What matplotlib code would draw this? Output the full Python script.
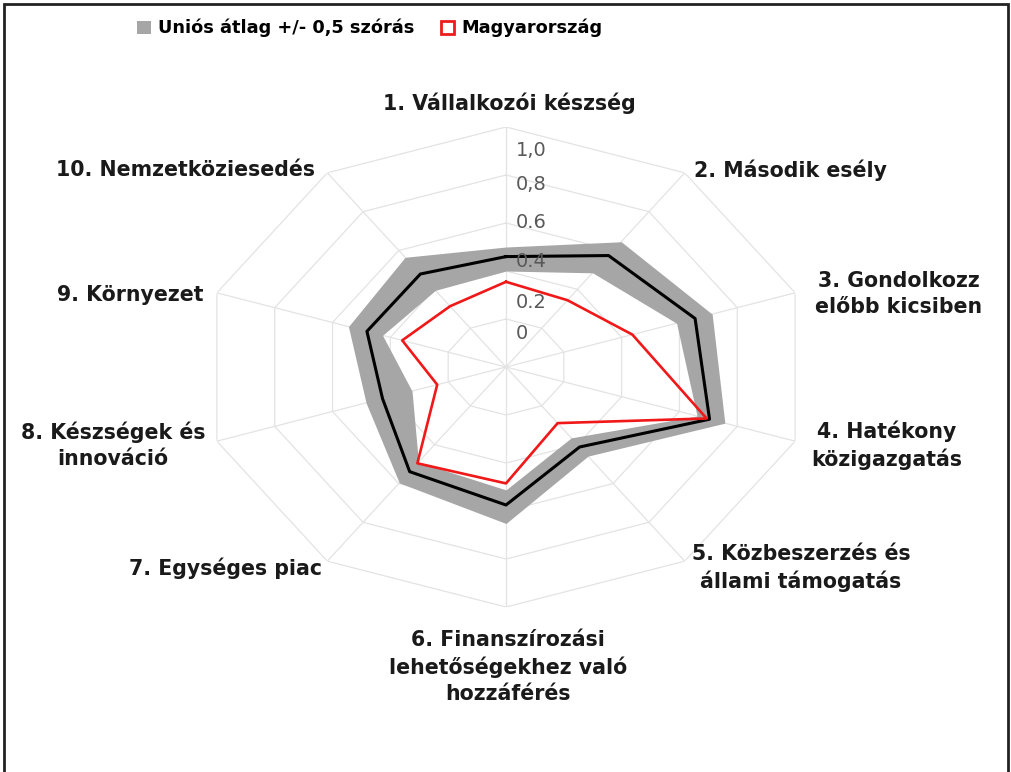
import numpy as np
import matplotlib.pyplot as plt
from matplotlib.patches import Patch, Rectangle

# radar chart - EU average band vs Hungary
categories = ['1. Vállalkozói készség', '2. Második esély',
              '3. Gondolkozz\nelőbb kicsiben', '4. Hatékony\nközigazgatás',
              '5. Közbeszerzés és\nállami támogatás',
              '6. Finanszírozási\nlehetőségekhez való\nhozzáférés',
              '7. Egységes piac', '8. Készségek és\ninnováció',
              '9. Környezet', '10. Nemzetköziesedés']
eu_avg = [0.46, 0.574, 0.654, 0.704, 0.412, 0.575, 0.539, 0.427, 0.481, 0.479]
eu_low = [0.40, 0.485, 0.59, 0.661, 0.365, 0.512, 0.49, 0.325, 0.427, 0.395]
eu_high = [0.50, 0.645, 0.713, 0.757, 0.459, 0.652, 0.597, 0.484, 0.545, 0.565]
hungary = [0.355, 0.344, 0.437, 0.694, 0.289, 0.485, 0.496, 0.238, 0.359, 0.313]
rtick_labels = ['0', '0.2', '0.4', '0.6', '0,8', '1,0']
legend_labels = ['Uniós átlag +/- 0,5 szórás', 'Magyarország']

W, H = 1012, 772
fig = plt.figure(figsize=(W / 100, H / 100), dpi=100)

# polar axes stretched into an ellipse (centre 506,367; radii 304 x 240 px)
ax = fig.add_axes([(506 - 304) / W, (H - 367 - 240) / H, 608 / W, 480 / H],
                  projection='polar')
ax.set_aspect('auto')
ax.set_theta_zero_location('N')
ax.set_theta_direction(-1)
ax.set_ylim(0, 1)
ax.set_xticks([])
ax.set_yticks([])
ax.grid(False)
ax.spines['polar'].set_visible(False)

n = len(categories)
theta = np.arange(n) * 2 * np.pi / n
tc = np.append(theta, theta[0])

def close(v):
    return np.append(v, v[0])

grid_col = '#e3e3e3'
for lvl in [0.2, 0.4, 0.6, 0.8, 1.0]:
    ax.plot(tc, [lvl] * (n + 1), color=grid_col, lw=0.9, zorder=1)
for t in theta:
    ax.plot([t, t], [0, 1], color=grid_col, lw=0.9, zorder=1)

ax.fill_between(tc, close(eu_low), close(eu_high), color='#a6a6a6', lw=0, zorder=2)
ax.plot(tc, close(eu_avg), color='black', lw=2.2, zorder=3)
ax.plot(tc, close(hungary), color='#f01818', lw=1.9, zorder=4)

# radial labels (placed as in the original)
rtick_pos = [0.14, 0.27, 0.44, 0.60, 0.76, 0.90]
for lab, r in zip(rtick_labels, rtick_pos):
    ax.annotate(lab, xy=(0, r), xytext=(7, 0), textcoords='offset points',
                ha='left', va='center', fontsize=14, color='#595959', zorder=5)

# category labels
label_xy = [(509, 103), (790, 170), (899, 294), (887, 445), (801, 568),
            (508, 667), (226, 568), (113, 445), (130, 295), (186, 170)]
for lab, (x, y) in zip(categories, label_xy):
    fig.text(x / W, 1 - y / H, lab, ha='center', va='center', fontsize=14.8,
             fontweight='bold', color='#1a1a1a', linespacing=1.4)

handles = [Patch(facecolor='#a6a6a6', edgecolor='none'),
           Patch(facecolor='white', edgecolor='#ee1c1c', lw=2)]
fig.legend(handles, legend_labels, loc='center', bbox_to_anchor=(370 / W, 1 - 28 / H),
           ncol=2, frameon=False, handlelength=0.75, handleheight=0.75,
           handletextpad=0.4, columnspacing=1.5,
           prop={'size': 12.8, 'weight': 'bold'})

fig.add_artist(Rectangle((4 / W, -0.05), 1004 / W, 1.05 - 4 / H, transform=fig.transFigure,
                         fill=False, edgecolor='#222222', lw=2))

fig.savefig('out.png', dpi=100)
